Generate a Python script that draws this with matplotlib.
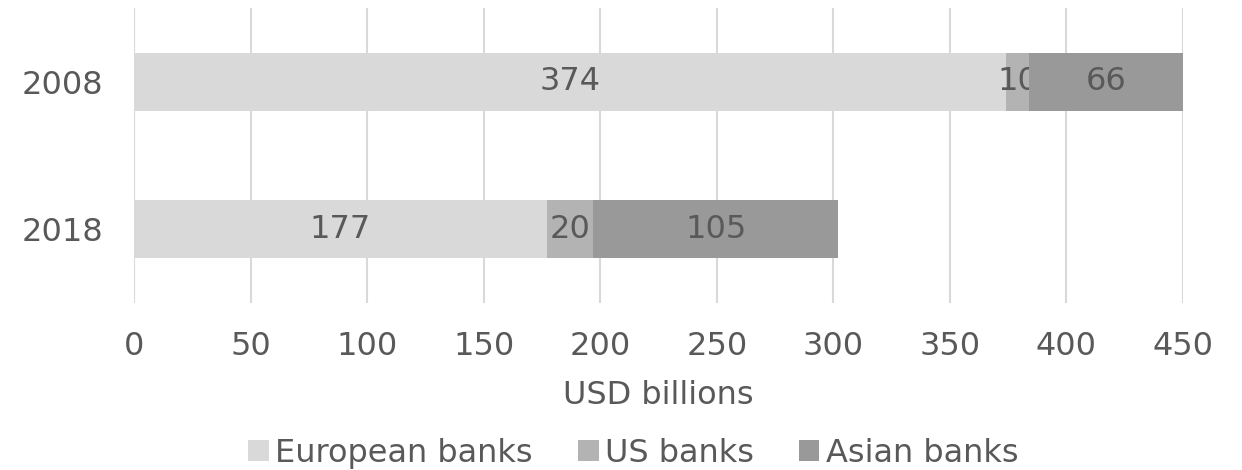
import matplotlib.pyplot as plt
import numpy as np

years = ["2008", "2018"]
european = [374, 177]
us = [10, 20]
asian = [66, 105]
series_names = ["European banks", "US banks", "Asian banks"]
colors = ["#D9D9D9", "#B3B3B3", "#999999"]
xticks = [0, 50, 100, 150, 200, 250, 300, 350, 400, 450]

text_color = "#595959"
fs = 23
plt.rcParams['font.family'] = ['DejaVu Sans']

fig = plt.figure(figsize=(12.42, 4.70), dpi=100)
ax = fig.add_axes([0.1079, 0.3553, 0.9525 - 0.1079, 0.983 - 0.3553])

y = np.arange(len(years))
left = np.zeros(len(years))
bar_h = 0.39
for vals, name, col in zip([european, us, asian], series_names, colors):
    bars = ax.barh(y, vals, left=left, height=bar_h, color=col, label=name, zorder=3)
    ax.bar_label(bars, labels=[str(v) for v in vals], label_type='center',
                 fontsize=fs, color=text_color)
    left += np.array(vals)

ax.set_xlim(0, 450)
ax.set_ylim(len(years) - 0.5, -0.5)
ax.set_yticks(y, years)
ax.set_xticks(xticks, [str(t) for t in xticks])
ax.tick_params(axis='both', length=0, labelsize=fs, labelcolor=text_color)
ax.tick_params(axis='x', pad=20)
ax.tick_params(axis='y', pad=22)
ax.grid(axis='x', color="#D9D9D9", linewidth=1.5, zorder=0)
for s in ax.spines.values():
    s.set_visible(False)

ax.set_xlabel("USD billions", fontsize=fs, color=text_color, labelpad=13)

handles, labels = ax.get_legend_handles_labels()
fig.legend(handles, labels, loc='center', bbox_to_anchor=(0.51, 0.035), ncol=3,
           frameon=False, fontsize=fs, labelcolor=text_color,
           handlelength=0.65, handleheight=0.65, handletextpad=0.2, columnspacing=1.4)

fig.savefig("out.png", dpi=100)
